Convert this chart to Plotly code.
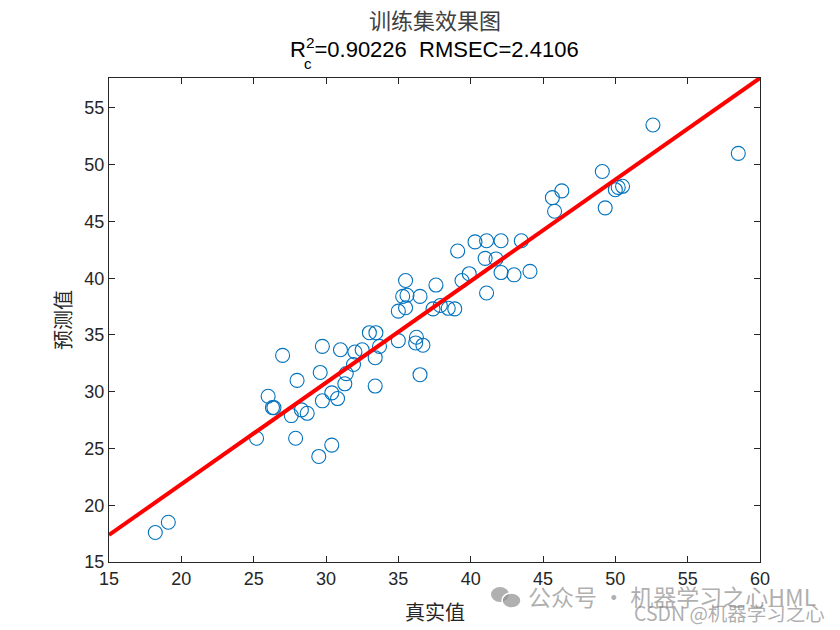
import numpy as np
import plotly.graph_objects as go

# ---- data ----
true_vals = [18.2, 19.1, 25.2, 27.9, 30.4, 29.5, 27.0, 29.75, 31.0, 32.0,
             32.5, 33.0, 33.45, 33.7, 33.4, 35.0, 36.25, 36.2, 36.7, 36.5,
             31.9, 31.4, 31.3, 29.6, 28.0, 26.0, 26.3, 26.4, 28.3, 28.7,
             27.6, 29.75, 30.4, 30.8, 33.4, 35.5, 37.6, 35.3, 35.6, 36.5,
             35.0, 35.5, 37.4, 37.9, 38.45, 38.9, 40.3, 41.1, 42.1, 43.5,
             39.1, 41.0, 41.75, 39.9, 39.4, 42.1, 43.0, 44.1, 41.1, 52.6,
             58.5, 49.1, 45.65, 46.3, 45.8, 49.3, 50.0, 50.2, 50.5]
pred_vals = [17.6, 18.5, 25.9, 25.9, 25.3, 24.3, 33.2, 34.0, 33.7, 33.5,
             33.7, 35.2, 35.2, 34.0, 33.0, 34.5, 34.8, 34.3, 34.1, 31.5,
             32.4, 31.6, 30.7, 31.7, 31.0, 29.6, 28.6, 28.6, 28.4, 28.1,
             27.9, 29.2, 29.9, 29.4, 30.5, 39.8, 39.4, 38.4, 38.5, 38.4,
             37.1, 37.4, 37.3, 37.6, 37.35, 37.3, 43.2, 43.3, 43.3, 43.3,
             42.4, 41.75, 41.7, 40.4, 39.8, 40.5, 40.3, 40.6, 38.7, 53.5,
             51.0, 49.4, 47.1, 47.7, 45.9, 46.2, 47.8, 48.0, 48.1]
fit_slope = 0.8947
fit_intercept = 3.96
x_range = [15, 60]
y_range = [15, 57.64]
tick_vals_x = [15, 20, 25, 30, 35, 40, 45, 50, 55, 60]
tick_vals_y = [15, 20, 25, 30, 35, 40, 45, 50, 55]
title_main = "训练集效果图"
title_stats = "R<sup>2</sup>=0.90226  RMSEC=2.4106"
title_sub = "c"
x_label = "真实值"
y_label = "预测值"
watermark_1 = "公众号 · 机器学习之心HML"
watermark_2 = "CSDN @机器学习之心"

line_x = np.array(x_range, dtype=float)
line_y = fit_slope * line_x + fit_intercept

fig = go.Figure()
fig.add_trace(go.Scatter(
    x=true_vals, y=pred_vals, mode="markers",
    marker=dict(symbol="circle-open", size=14, color="#0072BD",
                line=dict(width=1.1, color="#0072BD")),
    showlegend=False, cliponaxis=False))
fig.add_trace(go.Scatter(
    x=line_x, y=line_y, mode="lines",
    line=dict(color="#FF0000", width=4), showlegend=False, cliponaxis=True))

axis_common = dict(showgrid=False, zeroline=False, showline=True,
                   linecolor="#262626", linewidth=1, mirror="ticks",
                   ticks="inside", ticklen=6, tickcolor="#262626",
                   tickfont=dict(family="Liberation Sans, Arial", size=18, color="#262626"))
fig.update_xaxes(range=x_range, tickvals=tick_vals_x, **axis_common)
fig.update_yaxes(range=y_range, tickvals=tick_vals_y, **axis_common)

# page is offset by 8px body margin; plot area target in page px: x 109..760, y 78..562
L, T = 101, 70
W, H = 832, 622
fig.update_layout(
    width=W, height=H,
    margin=dict(l=L, r=W - 752, t=T, b=H - 554),
    paper_bgcolor="white", plot_bgcolor="white",
)

cx = 434.5  # page x of plot centre
wm_color = "rgba(140,140,140,0.7)"


def top_shift(page_y):
    return 78 - page_y


# small WeChat-like logo (two overlapping bubbles) in paper pixel coords
def px_x(page_x):
    return (page_x - 109) / (760 - 109)


def px_y(page_y):
    return (562 - page_y) / (562 - 78)


fig.update_layout(shapes=[
    dict(type="circle", xref="paper", yref="paper",
         x0=px_x(491), x1=px_x(509), y0=px_y(602), y1=px_y(587),
         fillcolor="rgba(150,150,150,0.75)", line=dict(width=0), layer="above"),
    dict(type="circle", xref="paper", yref="paper",
         x0=px_x(502), x1=px_x(521), y0=px_y(608), y1=px_y(593),
         fillcolor="rgba(150,150,150,0.75)", line=dict(color="white", width=1.5),
         layer="above"),
])

fig.update_layout(annotations=[
    dict(text=title_main, xref="paper", yref="paper", x=0.5, y=1,
         xanchor="center", yanchor="middle", yshift=top_shift(19), showarrow=False,
         font=dict(family="Noto Sans CJK SC", size=22, color="#404040")),
    dict(text=title_stats, xref="paper", yref="paper", x=0.5, y=1,
         xanchor="center", yanchor="middle", yshift=top_shift(48), showarrow=False,
         font=dict(family="Liberation Sans, Arial", size=22, color="#000000")),
    dict(text=title_sub, xref="paper", yref="paper", x=0.5, y=1,
         xanchor="center", yanchor="middle", xshift=308 - cx, yshift=top_shift(63),
         showarrow=False,
         font=dict(family="Liberation Sans, Arial", size=15, color="#000000")),
    dict(text=x_label, xref="paper", yref="paper", x=0.5, y=0,
         xanchor="center", yanchor="middle", yshift=-(611 - 562), showarrow=False,
         font=dict(family="Noto Sans CJK SC", size=20, color="#262626")),
    dict(text=y_label, xref="paper", yref="paper", x=0, y=0.5,
         xanchor="center", yanchor="middle", xshift=-(109 - 62), textangle=-90,
         showarrow=False,
         font=dict(family="Noto Sans CJK SC", size=20, color="#262626")),
    dict(text=watermark_1, xref="paper", yref="paper", x=0, y=0,
         xanchor="left", yanchor="middle", xshift=526 - 109, yshift=-(596 - 562),
         showarrow=False,
         font=dict(family="Noto Sans CJK SC", size=23, color=wm_color)),
    dict(text=watermark_2, xref="paper", yref="paper", x=0, y=0,
         xanchor="left", yanchor="middle", xshift=632 - 109, yshift=-(612 - 562),
         showarrow=False,
         font=dict(family="Noto Sans CJK SC", size=19.5, color=wm_color)),
])

fig.write_html("out.html")
